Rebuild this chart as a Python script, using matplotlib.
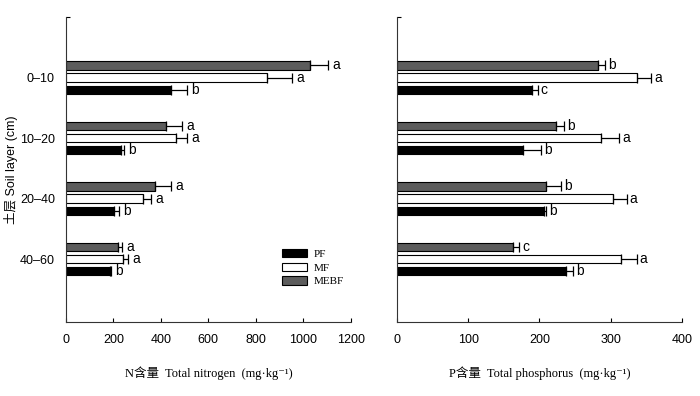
import numpy as np
import matplotlib.pyplot as plt
from matplotlib.patches import Patch

layers = ['0–10', '10–20', '20–40', '40–60']
series = ['PF', 'MF', 'MEBF']
colors = {'PF': 'black', 'MF': 'white', 'MEBF': '#5c5c5c'}

# total nitrogen (mg/kg)
n_pf = [442, 231, 202, 185]
n_pf_err = [67, 14, 21, 4]
n_mf = [846, 463, 324, 240]
n_mf_err = [106, 46, 34, 21]
n_mebf = [1027, 421, 375, 219]
n_mebf_err = [76, 67, 67, 17]
n_pf_sig = ['b', 'b', 'b', 'b']
n_mf_sig = ['a', 'a', 'a', 'a']
n_mebf_sig = ['a', 'a', 'a', 'a']

# total phosphorus (mg/kg)
p_pf = [190, 177, 206, 238]
p_pf_err = [8, 26, 4, 9]
p_mf = [337, 287, 303, 314]
p_mf_err = [20, 25, 20, 23]
p_mebf = [283, 223, 210, 163]
p_mebf_err = [9, 12, 21, 9]
p_pf_sig = ['c', 'b', 'b', 'b']
p_mf_sig = ['a', 'a', 'a', 'a']
p_mebf_sig = ['b', 'b', 'b', 'c']

sans = ['Liberation Sans', 'DejaVu Sans']
serif = ['Liberation Serif', 'Noto Sans CJK SC', 'DejaVu Serif']

fig = plt.figure(figsize=(7, 3.96), dpi=100)
ax1 = fig.add_axes([0.0943, 0.187, 0.4067, 0.770])
ax2 = fig.add_axes([0.567, 0.187, 0.407, 0.770])

y = np.arange(1, len(layers) + 1)
offsets = {'MEBF': -0.2, 'MF': 0.0, 'PF': 0.2}
h = 0.135


def draw(ax, data, xmax, step, gap):
    for name in ['MEBF', 'MF', 'PF']:
        vals, errs, sig = data[name]
        yy = y + offsets[name]
        ax.barh(yy, vals, height=h, color=colors[name], edgecolor='black',
                linewidth=0.8, zorder=2)
        ax.errorbar(vals, yy, xerr=[np.zeros(len(errs)), errs], fmt='none',
                    ecolor='black', elinewidth=0.9, capsize=3.5, capthick=0.9,
                    zorder=3)
        for v, e, s, yi in zip(vals, errs, sig, yy):
            ax.text(v + e + gap, yi, s, ha='left', va='center', fontsize=10,
                    family=sans)
    ax.set_xlim(0, xmax)
    ax.set_ylim(5.04, 0)
    ax.set_xticks(np.arange(0, xmax + 1, step))
    ax.spines['top'].set_visible(False)
    ax.spines['right'].set_visible(False)
    for sp in ['left', 'bottom']:
        ax.spines[sp].set_linewidth(0.8)
        ax.spines[sp].set_color('#333333')
    ax.tick_params(axis='x', direction='in', length=3, width=0.8, pad=9,
                   labelsize=9)
    ax.set_yticks([0.0], minor=True)
    ax.tick_params(axis='y', which='minor', direction='in', length=3, width=0.8)
    for lab in ax.get_xticklabels():
        lab.set_family(sans)


draw(ax1, {'PF': (n_pf, n_pf_err, n_pf_sig),
           'MF': (n_mf, n_mf_err, n_mf_sig),
           'MEBF': (n_mebf, n_mebf_err, n_mebf_sig)}, 1200, 200, 18)
draw(ax2, {'PF': (p_pf, p_pf_err, p_pf_sig),
           'MF': (p_mf, p_mf_err, p_mf_sig),
           'MEBF': (p_mebf, p_mebf_err, p_mebf_sig)}, 400, 100, 4)

ax1.set_yticks(y)
ax1.set_yticklabels(layers, family=sans, fontsize=9)
ax1.tick_params(axis='y', which='major', length=0, pad=8)
ax2.set_yticks([])

ax1.set_ylabel('土层 Soil layer (cm)', family=['Liberation Sans', 'Noto Sans CJK SC'],
               fontsize=9)
ax1.yaxis.set_label_coords(-0.168, 0.5)
ax1.set_xlabel('N含量  Total nitrogen  (mg·kg⁻¹)', family=serif, fontsize=9,
               labelpad=14)
ax2.set_xlabel('P含量  Total phosphorus  (mg·kg⁻¹)', family=serif, fontsize=9,
               labelpad=14)

handles = [Patch(facecolor=colors[s], edgecolor='black', linewidth=0.8) for s in series]
ax1.legend(handles, series, loc='upper left', bbox_to_anchor=(0.76, 0.24),
           frameon=False, borderpad=0, borderaxespad=0,
           handlelength=2.2, handleheight=0.75, handletextpad=0.6,
           labelspacing=0.35, prop={'family': serif, 'size': 8})

fig.savefig('out.png', dpi=100)
